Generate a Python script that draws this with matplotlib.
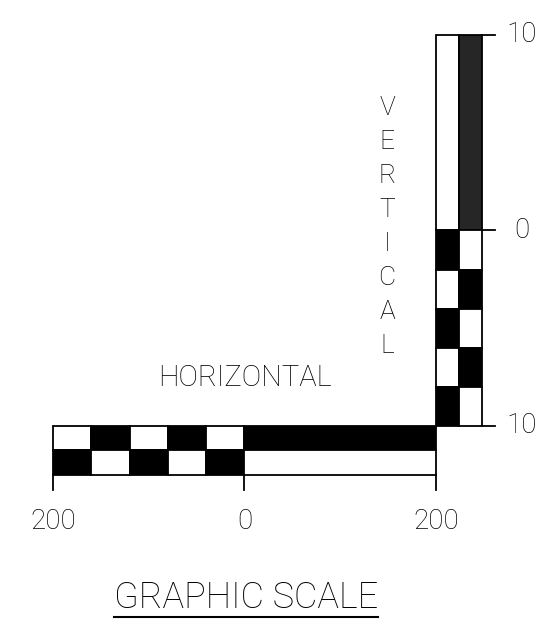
import matplotlib.pyplot as plt
from matplotlib.patches import Rectangle

# horizontal scale: square edges along the bar and the colours of each row
h_edges = [-200, -160, -120, -80, -40, 0, 200]
h_top_colors = ['white', 'black', 'white', 'black', 'white', 'black']
h_bottom_colors = ['black', 'white', 'black', 'white', 'black', 'white']
h_ticks = [-200, 0, 200]
h_tick_labels = ['200', '0', '200']

# vertical scale: edges from top to bottom, colours of left / right column
v_edges = [10, 0, -2, -4, -6, -8, -10]
v_left_colors = ['white', 'black', 'white', 'black', 'white', 'black']
v_right_colors = ['#262626', 'white', 'black', 'white', 'black', 'white']
v_ticks = [10, 0, -10]
v_tick_labels = ['10', '0', '10']

h_title = 'HORIZONTAL'
v_title = 'VERTICAL'
caption = 'GRAPHIC SCALE'

# layout (data units: x = horizontal scale units, y = vertical scale units)
row_h = 1.25
col_w = 24
lw = 1.3
font = ['Roboto', 'DejaVu Sans']

fig = plt.figure(figsize=(5.57, 6.41), dpi=100)
ax = fig.add_axes([0, 0, 1, 1])
ax.set_xlim(-255.35, 326.4)
ax.set_ylim(-21.0, 11.79)
ax.axis('off')

bar_top = v_edges[-1]

# horizontal bar
for i in range(len(h_edges) - 1):
    x0 = h_edges[i]
    w = h_edges[i + 1] - h_edges[i]
    ax.add_patch(Rectangle((x0, bar_top - row_h), w, row_h,
                           facecolor=h_top_colors[i], edgecolor='black', lw=lw))
    ax.add_patch(Rectangle((x0, bar_top - 2 * row_h), w, row_h,
                           facecolor=h_bottom_colors[i], edgecolor='black', lw=lw))
for t, lab in zip(h_ticks, h_tick_labels):
    ax.plot([t, t], [bar_top - 2 * row_h, bar_top - 2 * row_h - 0.8], color='black', lw=lw)
    ax.text(t, -14.9, lab, ha='center', va='center', fontsize=20,
            family=font, fontweight='light')

# vertical bar
vx = h_edges[-1]
for i in range(len(v_edges) - 1):
    y0 = v_edges[i + 1]
    h = v_edges[i] - v_edges[i + 1]
    ax.add_patch(Rectangle((vx, y0), col_w, h,
                           facecolor=v_left_colors[i], edgecolor='black', lw=lw))
    ax.add_patch(Rectangle((vx + col_w, y0), col_w, h,
                           facecolor=v_right_colors[i], edgecolor='black', lw=lw))
for t, lab in zip(v_ticks, v_tick_labels):
    ax.plot([vx + 2 * col_w, 262], [t, t], color='black', lw=lw)
    ax.text(290, t, lab, ha='center', va='center', fontsize=20,
            family=font, fontweight='light')

# titles
ax.text(0, -7.55, h_title, ha='center', va='center', fontsize=21,
        family=font, fontweight='light')
for k, ch in enumerate(v_title):
    ax.text(149, 6.27 - k * 1.74, ch, ha='center', va='center', fontsize=19,
            family=font, fontweight='light')

cap = ax.text(2, -18.8, caption, ha='center', va='center', fontsize=26,
              family=font, fontweight='light')
fig.canvas.draw()
bb = cap.get_window_extent().transformed(ax.transData.inverted())
ax.plot([bb.x0, bb.x1], [-19.77, -19.77], color='black', lw=1.5)

fig.savefig('out.png', dpi=100)
